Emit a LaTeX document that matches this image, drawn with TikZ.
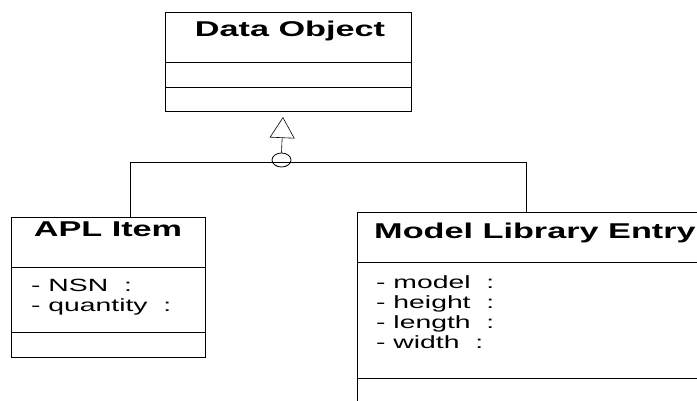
\documentclass[tikz,border=0pt]{standalone}
\usepackage{fontspec}
\setmainfont{Liberation Sans}[FakeStretch=1.6]
\usetikzlibrary{positioning,shapes.geometric,arrows.meta}
\tikzset{
	umlBox/.style={
		draw,
		line width=1pt,
		inner sep=0pt,
		outer sep=0pt
	},
	umlTitle/.style={anchor=base, inner sep=0pt, font=\fontsize{21.4}{24}\selectfont\bfseries},
	umlAttr/.style={anchor=base west, inner sep=0pt, font=\fontsize{17.7}{20}\selectfont},
	umlLink/.style={line width=0.9pt},
	umlInherit/.style={line width=0.6pt, -{Triangle[open, length=21pt, width=25pt]}},
	umlJoint/.style={draw, ellipse, line width=0.8pt, minimum width=19pt, minimum height=14pt, inner sep=0pt}
}

\begin{document}
\begin{tikzpicture}[x=1pt, y=-1pt]
	\useasboundingbox (0,0) rectangle (697,400);
	\clip (0,0) rectangle (697,400);

	% Data Object
	\node[umlBox, anchor=north west, minimum width=246pt, minimum height=50pt] (dataTitle) at (165,12) {};
	\node[umlBox, below=0pt of dataTitle, minimum width=246pt, minimum height=25pt] (dataAttr) {};
	\node[umlBox, below=0pt of dataAttr, minimum width=246pt, minimum height=24pt] (dataOps) {};
	\node[umlTitle] (dataName) at (290,36) {Data Object};

	% APL Item
	\node[umlBox, anchor=north west, minimum width=194pt, minimum height=50pt] (aplTitle) at (11,217) {};
	\node[umlBox, below=0pt of aplTitle, minimum width=194pt, minimum height=65pt] (aplAttr) {};
	\node[umlBox, below=0pt of aplAttr, minimum width=194pt, minimum height=25pt] (aplOps) {};
	\node[umlTitle] (aplName) at (108,236.7) {APL Item};
	\node[umlAttr] (aplNsn) at (31,291) {-\ NSN\ \ :};
	\node[umlAttr] (aplQty) at (31,311.5) {-\ quantity\ \ :};

	% Model Library Entry
	\node[umlBox, anchor=north west, minimum width=360pt, minimum height=50pt] (mleTitle) at (357,212) {};
	\node[umlBox, below=0pt of mleTitle, minimum width=360pt, minimum height=116pt] (mleAttr) {};
	\node[umlBox, below=0pt of mleAttr, minimum width=360pt, minimum height=26pt] (mleOps) {};
	\node[umlTitle] (mleName) at (535,238.3) {Model Library Entry};
	\node[umlAttr] (mleModel) at (376,288) {-\ model\ \ :};
	\node[umlAttr] (mleHeight) at (376,308) {-\ height\ \ :};
	\node[umlAttr] (mleLength) at (376,328) {-\ length\ \ :};
	\node[umlAttr] (mleWidth) at (376,348) {-\ width\ \ :};

	% Generalization
	\node[umlJoint] (joint) at (281.5,160) {};
	\coordinate (apex) at (283,117);
	\coordinate (busL) at (130,162);
	\coordinate (busR) at (526,162);
	\draw[umlLink] (aplTitle.north -| busL) -- (busL) -- (busR) -- (mleTitle.north -| busR);
	\draw[umlInherit] (joint.north) -- (apex);

\end{tikzpicture}
\end{document}
